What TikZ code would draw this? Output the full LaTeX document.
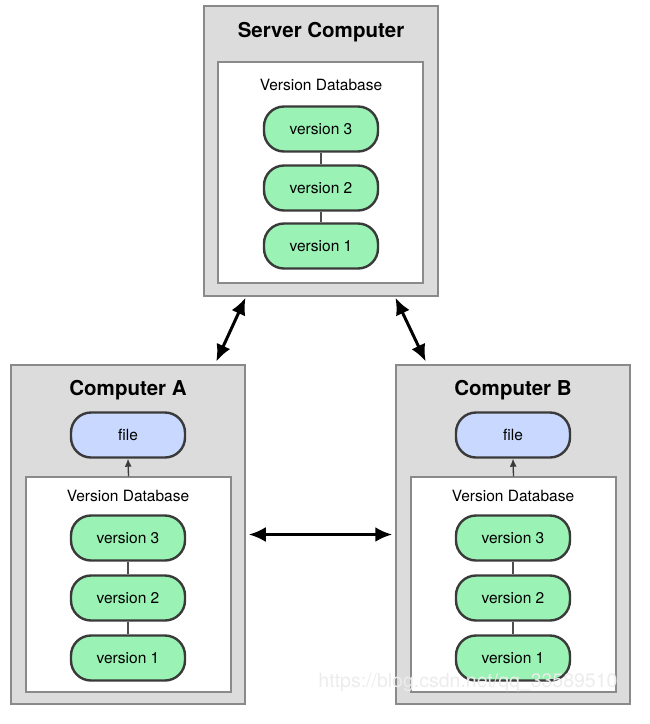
\documentclass[tikz,border=0pt]{standalone}
\usepackage{fontspec}
\setmainfont{TeX Gyre Heros}
\usepackage{xcolor}
\usetikzlibrary{arrows.meta,positioning,calc}
\definecolor{boxgray}{HTML}{DCDCDC}
\definecolor{boxedge}{HTML}{8A8A8A}
\definecolor{vergreen}{HTML}{9AF2B4}
\definecolor{fileblue}{HTML}{C8D8FF}
\definecolor{pilledge}{HTML}{3A3A3A}
\tikzset{
  machine/.style={draw=boxedge,fill=boxgray,line width=1.5pt,minimum width=234,inner sep=0},
  dbbox/.style={draw=boxedge,fill=white,line width=1.2pt,minimum width=205,inner sep=0},
  pill/.style={draw=pilledge,line width=2.4pt,rounded corners=20pt,minimum width=114,minimum height=45,font=\fontsize{15.5}{17}\selectfont},
  ver/.style={pill,fill=vergreen},
  filepill/.style={pill,fill=fileblue},
  title/.style={font=\fontsize{20.5}{23}\selectfont\bfseries},
  dblabel/.style={font=\fontsize{15.5}{17}\selectfont},
  link/.style={draw=pilledge!90,line width=1.3pt},
  sync/.style={{Latex[length=17pt,width=15pt]}-{Latex[length=17pt,width=15pt]},line width=3pt,shorten <=1pt,shorten >=3pt},
}
\begin{document}
\begin{tikzpicture}[x=1pt,y=-1pt]
  \useasboundingbox (0,0) rectangle (650,724);
  % server
  \node[machine,minimum height=290] (server) at (321,151) {};
  \node[title] (servertitle) at (321,32) {Server Computer};
  \node[dbbox,minimum height=221] (serverdb) at (320.5,172.5) {};
  \node[dblabel] (serverlbl) at (321,85) {Version Database};
  \foreach \n/\y in {3/129,2/188,1/246}{\node[ver] (s\n) at (321,\y) {version \n};}
  \draw[link] (s3)--(s2) (s2)--(s1);
  % the two clients
  \foreach \c/\x/\lbl in {A/128/Computer A,B/513/Computer B}{
    \node[machine,minimum height=339] (comp\c) at (\x,534.5) {};
    \node[title] (title\c) at (\x,390) {\lbl};
    \node[filepill] (file\c) at (\x,435) {file};
    \node[dbbox,minimum height=215] (db\c) at (\x+0.5,584.5) {};
    \node[dblabel] (lbl\c) at (\x,496) {Version Database};
    \foreach \n/\y in {3/538,2/598,1/658}{\node[ver] (\c\n) at (\x,\y) {version \n};}
    \draw[link] (\c3)--(\c2) (\c2)--(\c1);
    \draw[-{Latex[length=8pt,width=7pt]},line width=1.3pt,draw=pilledge] (db\c.north) -- (file\c.south);
  }
  \draw[sync] ([xshift=-75pt]server.south) -- ([xshift=87pt]compA.north);
  \draw[sync] ([xshift=74pt]server.south) -- ([xshift=-86pt]compB.north);
  \draw[sync,shorten <=3pt] (compA.east) -- (compB.west);
  \node[font=\fontsize{19.5}{22}\selectfont,text=gray!15] (mark) at (468,683) {https://blog.csdn.net/qq\_33589510};
\end{tikzpicture}
\end{document}
